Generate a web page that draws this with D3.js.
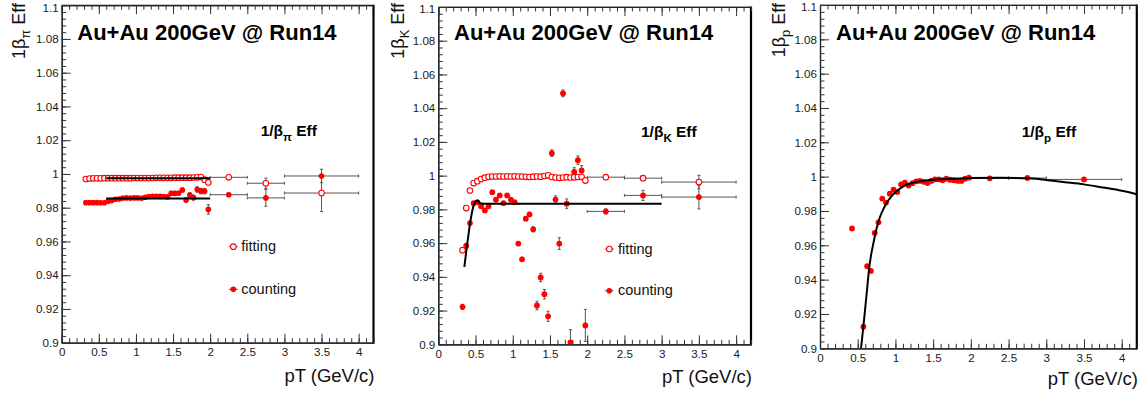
<!DOCTYPE html>
<html><head><meta charset="utf-8">
<script src="https://cdn.jsdelivr.net/npm/d3@7"></script>
<style>
body{margin:0;background:#fff}
svg{display:block;font-family:"Liberation Sans",Arial,Helvetica,sans-serif}
</style>
</head><body>
<svg id="chart" width="1148" height="396"></svg>
<script>
// ---------------- data ----------------
const xTickValues = [0, 0.5, 1, 1.5, 2, 2.5, 3, 3.5, 4];
const xTickLabels = ["0", "0.5", "1", "1.5", "2", "2.5", "3", "3.5", "4"];
const yTickValues = [0.9, 0.92, 0.94, 0.96, 0.98, 1.0, 1.02, 1.04, 1.06, 1.08, 1.1];
const yTickLabels = ["0.9", "0.92", "0.94", "0.96", "0.98", "1", "1.02", "1.04", "1.06", "1.08", "1.1"];

const titleText = "Au+Au 200GeV @ Run14";
const xAxisTitle = "pT (GeV/c)";
const particles = ["π", "K", "p"];
const legendLabels = ["fitting", "counting"];

const finePt = [0.325, 0.375, 0.425, 0.475, 0.525, 0.575, 0.625, 0.675, 0.725, 0.775,
  0.825, 0.875, 0.925, 0.975, 1.025, 1.075, 1.125, 1.175, 1.225, 1.275,
  1.325, 1.375, 1.425, 1.475, 1.525, 1.575, 1.625, 1.675, 1.725, 1.775,
  1.825, 1.875, 1.925, 1.975];

const binPt = [2.25, 2.75, 3.5];
const binHalfWidth = [0.25, 0.25, 0.5];

// pion
const pionFitting = [0.9970, 0.9973, 0.9974, 0.9974, 0.9974, 0.9975, 0.9975, 0.9975, 0.9975, 0.9975,
  0.9975, 0.9975, 0.9975, 0.9976, 0.9976, 0.9976, 0.9976, 0.9976, 0.9976, 0.9977,
  0.9977, 0.9977, 0.9977, 0.9977, 0.9978, 0.9978, 0.9978, 0.9978, 0.9978, 0.9979,
  0.9980, 0.9982, 0.9966, 0.9950];
const pionFittingErr = finePt.map(() => 0.0002);
const pionCounting = [0.9830, 0.9830, 0.9830, 0.9830, 0.9829, 0.9829, 0.9838, 0.9842, 0.9850, 0.9852,
  0.9857, 0.9858, 0.9857, 0.9858, 0.9858, 0.9856, 0.9862, 0.9866, 0.9868, 0.9868,
  0.9867, 0.9866, 0.9864, 0.9885, 0.9885, 0.9886, 0.9905, 0.9845, 0.9875, 0.9860,
  0.9908, 0.9898, 0.9898, 0.9790];
const pionCountingErr = [0.0003, 0.0003, 0.0003, 0.0003, 0.0003, 0.0003, 0.0003, 0.0003, 0.0003, 0.0003,
  0.0003, 0.0003, 0.0003, 0.0003, 0.0003, 0.0004, 0.0004, 0.0004, 0.0004, 0.0005,
  0.0005, 0.0006, 0.0006, 0.0012, 0.0012, 0.0012, 0.0012, 0.0014, 0.0014, 0.0015,
  0.0016, 0.0016, 0.0016, 0.0028];
const pionBinFitting = [0.9980, 0.9945, 0.9887];
const pionBinFittingErr = [0.0005, 0.003, 0.011];
const pionBinCounting = [0.9877, 0.9858, 0.9988];
const pionBinCountingErr = [0.001, 0.005, 0.004];
const pionFitLinePt = [0.6, 2.0];
const pionFitLineFitting = [0.9975, 0.9975];
const pionFitLineCounting = [0.9855, 0.9855];

// kaon
const kaonFitting = [0.9558, 0.9808, 0.9912, 0.9956, 0.9967, 0.9980, 0.9988, 0.9993, 0.9995, 0.9995,
  0.9996, 0.9995, 0.9996, 0.9995, 0.9996, 0.9995, 0.9995, 0.9993, 0.9992, 0.9994,
  0.9995, 0.9994, 0.9998, 1.0002, 0.9992, 0.9989, 0.9987, 0.9989, 0.9991, 0.9989,
  0.9990, 0.9992, 0.9993, 0.9971];
const kaonFittingErr = [0.0012, 0.0006, 0.0004, 0.0003, 0.0003, 0.0002, 0.0002, 0.0002, 0.0002, 0.0002,
  0.0002, 0.0002, 0.0002, 0.0002, 0.0002, 0.0002, 0.0002, 0.0002, 0.0002, 0.0002,
  0.0002, 0.0002, 0.0002, 0.0002, 0.0003, 0.0003, 0.0003, 0.0003, 0.0003, 0.0003,
  0.0003, 0.0003, 0.0003, 0.0004];
const kaonCounting = [0.9222, 0.9585, 0.9719, 0.9837, 0.9843, 0.9818, 0.9794, 0.9818, 0.9902, 0.9857,
  0.9883, 0.9837, 0.9883, 0.9857, 0.9843, 0.9597, 0.9504, 0.9745, 0.9770, 0.9682,
  0.9230, 0.9396, 0.9297, 0.9166, 1.0133, 0.9858, 0.9597, 1.0488, 0.9834, 0.9012,
  1.0022, 1.0092, 1.0031, 0.9112];
const kaonCountingErr = [0.0015, 0.0010, 0.0008, 0.0006, 0.0006, 0.0006, 0.0006, 0.0006, 0.0006, 0.0006,
  0.0007, 0.0007, 0.0007, 0.0007, 0.0008, 0.0012, 0.0012, 0.0012, 0.0012, 0.0015,
  0.0025, 0.0025, 0.0028, 0.0030, 0.0020, 0.0022, 0.0035, 0.0020, 0.0028, 0.0075,
  0.0025, 0.0025, 0.0028, 0.0095];
const kaonBinFitting = [0.9991, 0.9985, 0.9962];
const kaonBinFittingErr = [0.0005, 0.0008, 0.004];
const kaonBinCounting = [0.9788, 0.9883, 0.9873];
const kaonBinCountingErr = [0.0015, 0.003, 0.007];
const kaonFitCurvePt = [0.35, 0.37, 0.39, 0.41, 0.426, 0.445, 0.463, 0.48, 0.495, 0.51, 0.526, 0.54, 0.56, 0.58, 0.62, 3.0];
const kaonFitCurveVal = [0.9459, 0.9530, 0.9600, 0.9665, 0.9716, 0.9765, 0.9804, 0.9828, 0.9843, 0.9850, 0.9851, 0.9847, 0.9838, 0.9835, 0.9834, 0.9834];

// proton
const protonPt = [0.425, 0.575, 0.625, 0.675, 0.725, 0.775, 0.825, 0.875, 0.925, 0.975,
  1.025, 1.075, 1.125, 1.175, 1.225, 1.275, 1.325, 1.375, 1.425, 1.475,
  1.525, 1.575, 1.625, 1.675, 1.725, 1.775, 1.825, 1.875, 1.925, 1.975];
const protonCounting = [0.9698, 0.9126, 0.9478, 0.9451, 0.9672, 0.9734, 0.9872, 0.9849, 0.9901, 0.9924,
  0.9910, 0.9955, 0.9965, 0.9948, 0.9962, 0.9973, 0.9975, 0.9970, 0.9963, 0.9975,
  0.9984, 0.9984, 0.9979, 0.9988, 0.9982, 0.9979, 0.9975, 0.9975, 0.9988, 0.9994];
const protonBinCounting = [0.9990, 0.9992, 0.9984];
const protonFitCurvePt = [0.544, 0.575, 0.62, 0.654, 0.68, 0.707, 0.75, 0.795, 0.84, 0.884, 0.95, 1.017, 1.105, 1.24, 1.41, 1.68, 1.99, 2.39, 2.75, 3.0, 3.2, 3.5, 3.75, 4.0, 4.2];
const protonFitCurveVal = [0.900, 0.9126, 0.9325, 0.9474, 0.9550, 0.9610, 0.9698, 0.9765, 0.9811, 0.9847, 0.9886, 0.9916, 0.9944, 0.9965, 0.9978, 0.9986, 0.9992, 0.9994, 0.9990, 0.9981, 0.9970, 0.9955, 0.9937, 0.9918, 0.9898];

// ---------------- drawing ----------------
const svg = d3.select("#chart");
const RED = "#ff0000";
const ERR = "#555";

const layout = [
  {x0: 61.7, x1: 373.5, yTop: 5.2, yBot: 342.7, ytX: 25, titleX: 77.3, titleY: 39.5, effX: 260.7, effY: 136, axTitleY: 381.7, legend: {mx: 233.3, tx: 241.3, y1: 246.7, y2: 289.3}},
  {x0: 438.3, x1: 751.0, yTop: 7.0, yBot: 344.3, ytX: 404, titleX: 454, titleY: 40, effX: 641, effY: 137.3, axTitleY: 382.7, legend: {mx: 609.3, tx: 618, y1: 249, y2: 290.7}},
  {x0: 820.0, x1: 1136.8, yTop: 5.0, yBot: 348.3, ytX: 784.5, titleX: 836, titleY: 39.5, effX: 1021.7, effY: 137.3, axTitleY: 384.5, legend: null}
];

function drawPanel(i, L, series) {
  const g = svg.append("g");
  const x = d3.scaleLinear().domain([0, 4.2]).range([L.x0, L.x1]);
  const y = d3.scaleLinear().domain([0.9, 1.1]).range([L.yBot, L.yTop]);

  const clipId = "clip" + i;
  svg.append("clipPath").attr("id", clipId).append("rect")
    .attr("x", L.x0).attr("y", L.yTop).attr("width", L.x1 - L.x0).attr("height", L.yBot - L.yTop);

  // frame
  g.append("line").attr("x1", L.x0).attr("x2", L.x1).attr("y1", L.yTop).attr("y2", L.yTop).attr("stroke", "#444").attr("stroke-width", 1);
  g.append("line").attr("x1", L.x1).attr("x2", L.x1).attr("y1", L.yTop - 0.5).attr("y2", L.yBot + 1).attr("stroke", "#000").attr("stroke-width", 2.2);

  const minorX = d3.range(0, 4.21, 0.1).map(v => +v.toFixed(2));
  const minorY = d3.range(0.9, 1.1001, 0.004).map(v => +v.toFixed(3));

  // bottom axis
  g.append("g").attr("transform", `translate(0,${L.yBot})`)
    .call(d3.axisBottom(x).tickValues(xTickValues).tickFormat((d, k) => xTickLabels[k]).tickSizeInner(-9).tickSizeOuter(0).tickPadding(5));
  g.append("g").attr("transform", `translate(0,${L.yBot})`)
    .call(d3.axisBottom(x).tickValues(minorX).tickFormat("").tickSizeInner(-4.5).tickSizeOuter(0));
  // top axis ticks
  g.append("g").attr("transform", `translate(0,${L.yTop})`)
    .call(d3.axisTop(x).tickValues(xTickValues).tickFormat("").tickSizeInner(-9).tickSizeOuter(0));
  g.append("g").attr("transform", `translate(0,${L.yTop})`)
    .call(d3.axisTop(x).tickValues(minorX).tickFormat("").tickSizeInner(-4.5).tickSizeOuter(0));
  // left axis
  const left = g.append("g").attr("transform", `translate(${L.x0},0)`)
    .call(d3.axisLeft(y).tickValues(yTickValues).tickFormat((d, k) => yTickLabels[k]).tickSizeInner(-9).tickSizeOuter(0).tickPadding(3));
  g.append("g").attr("transform", `translate(${L.x0},0)`)
    .call(d3.axisLeft(y).tickValues(minorY).tickFormat("").tickSizeInner(-4.5).tickSizeOuter(0));

  g.selectAll(".domain").attr("stroke", "#222").attr("stroke-width", 1.2);
  g.selectAll(".tick line").attr("stroke", "#333").attr("stroke-width", 1);
  g.selectAll(".tick text").attr("font-size", "11.6px").attr("fill", "#1a1a1a").attr("font-family", "Liberation Sans, Arial, sans-serif");
  // keep the topmost label fully inside the picture
  left.selectAll(".tick text").filter(d => d >= 1.099).attr("dy", "0.5em");

  // x axis title
  g.append("text").attr("x", L.x1 + 1).attr("y", L.axTitleY).attr("text-anchor", "end")
    .attr("font-size", "18.5px").attr("fill", "#111").text(xAxisTitle);

  // y axis title (rotated)
  const yt = g.append("text").attr("transform", `translate(${L.ytX},3) rotate(-90)`)
    .attr("text-anchor", "end").attr("font-size", "18px").attr("fill", "#111");
  yt.append("tspan").text("1β");
  yt.append("tspan").attr("font-size", "13px").attr("dy", 5).text(particles[i]);
  yt.append("tspan").attr("dy", -5).text(" Eff");

  // title
  g.append("text").attr("x", L.titleX).attr("y", L.titleY).attr("font-size", "22px")
    .attr("font-weight", "bold").attr("fill", "#000").text(titleText);

  // 1/beta Eff label
  const lab = g.append("text").attr("x", L.effX).attr("y", L.effY).attr("font-size", "15.5px")
    .attr("font-weight", "bold").attr("fill", "#000");
  lab.append("tspan").text("1/β");
  lab.append("tspan").attr("font-size", "11.5px").attr("dy", 5).text(particles[i]);
  lab.append("tspan").attr("dy", -5).text(" Eff");

  const plot = g.append("g").attr("clip-path", `url(#${clipId})`);

  function errBars(pts) {
    pts.forEach(p => {
      if (p.e > 0) {
        plot.append("line").attr("x1", x(p.x)).attr("x2", x(p.x)).attr("y1", y(p.v - p.e)).attr("y2", y(p.v + p.e))
          .attr("stroke", ERR).attr("stroke-width", 1);
        plot.append("line").attr("x1", x(p.x) - 1.5).attr("x2", x(p.x) + 1.5).attr("y1", y(p.v - p.e)).attr("y2", y(p.v - p.e)).attr("stroke", ERR).attr("stroke-width", 1);
        plot.append("line").attr("x1", x(p.x) - 1.5).attr("x2", x(p.x) + 1.5).attr("y1", y(p.v + p.e)).attr("y2", y(p.v + p.e)).attr("stroke", ERR).attr("stroke-width", 1);
      }
      if (p.hw > 0) {
        plot.append("line").attr("x1", x(p.x - p.hw)).attr("x2", x(p.x + p.hw)).attr("y1", y(p.v)).attr("y2", y(p.v))
          .attr("stroke", ERR).attr("stroke-width", 1);
        [p.x - p.hw, p.x + p.hw].forEach(xe => plot.append("line").attr("x1", x(xe)).attr("x2", x(xe)).attr("y1", y(p.v) - 1.5).attr("y2", y(p.v) + 1.5).attr("stroke", ERR).attr("stroke-width", 1));
      }
    });
  }
  function markers(pts, open, r) {
    plot.selectAll(null).data(pts).enter().append("circle")
      .attr("cx", d => x(d.x)).attr("cy", d => y(d.v)).attr("r", r)
      .attr("fill", open ? "#fff" : RED).attr("stroke", RED).attr("stroke-width", open ? 1.1 : 0);
  }

  series.forEach(s => { errBars(s.pts); });
  series.forEach(s => { markers(s.pts, s.open, s.r); });

  return {g, x, y, plot};
}

function mkPts(pts, vals, errs, hws) {
  return pts.map((p, k) => ({x: p, v: vals[k], e: errs ? errs[k] : 0, hw: hws ? hws[k] : 0}));
}

function drawLine(P, xs, vs) {
  const line = d3.line().x(d => P.x(d[0])).y(d => P.y(d[1])).curve(d3.curveMonotoneX);
  P.plot.append("path").datum(xs.map((v, k) => [v, vs[k]])).attr("d", line)
    .attr("fill", "none").attr("stroke", "#000").attr("stroke-width", 2);
}

function drawLegend(P, L) {
  const items = [{y: L.legend.y1, open: true, t: legendLabels[0]}, {y: L.legend.y2, open: false, t: legendLabels[1]}];
  items.forEach(it => {
    P.g.append("line").attr("x1", L.legend.mx - 4.5).attr("x2", L.legend.mx + 4.5).attr("y1", it.y).attr("y2", it.y).attr("stroke", ERR).attr("stroke-width", 1);
    P.g.append("circle").attr("cx", L.legend.mx).attr("cy", it.y).attr("r", 2.8)
      .attr("fill", it.open ? "#fff" : RED).attr("stroke", RED).attr("stroke-width", it.open ? 1.1 : 0);
    P.g.append("text").attr("x", L.legend.tx).attr("y", it.y + 4.5).attr("font-size", "14.5px").attr("fill", "#111").text(it.t);
  });
}

// Panel 1: pion
const P1 = drawPanel(0, layout[0], [
  {pts: mkPts(finePt, pionFitting, pionFittingErr), open: true, r: 2.8},
  {pts: mkPts(binPt, pionBinFitting, pionBinFittingErr, binHalfWidth), open: true, r: 2.8},
  {pts: mkPts(finePt, pionCounting, pionCountingErr), open: false, r: 2.8},
  {pts: mkPts(binPt, pionBinCounting, pionBinCountingErr, binHalfWidth), open: false, r: 2.8}
]);
drawLine(P1, pionFitLinePt, pionFitLineFitting);
drawLine(P1, pionFitLinePt, pionFitLineCounting);
drawLegend(P1, layout[0]);

// Panel 2: kaon
const P2 = drawPanel(1, layout[1], [
  {pts: mkPts(finePt, kaonFitting, kaonFittingErr), open: true, r: 2.8},
  {pts: mkPts(binPt, kaonBinFitting, kaonBinFittingErr, binHalfWidth), open: true, r: 2.8},
  {pts: mkPts(finePt, kaonCounting, kaonCountingErr), open: false, r: 2.9},
  {pts: mkPts(binPt, kaonBinCounting, kaonBinCountingErr, binHalfWidth), open: false, r: 2.9}
]);
drawLine(P2, kaonFitCurvePt, kaonFitCurveVal);
drawLegend(P2, layout[1]);

// Panel 3: proton
const P3 = drawPanel(2, layout[2], [
  {pts: mkPts(binPt, protonBinCounting, null, binHalfWidth), open: false, r: 2.9},
  {pts: mkPts(protonPt, protonCounting, null), open: false, r: 2.9}
]);
drawLine(P3, protonFitCurvePt, protonFitCurveVal);
</script>
</body></html>
